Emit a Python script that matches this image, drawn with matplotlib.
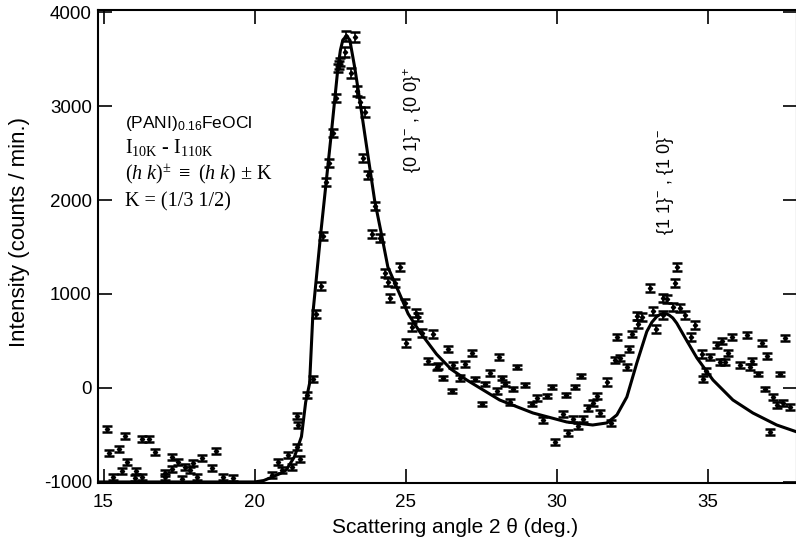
import numpy as np
import matplotlib
matplotlib.use("Agg")
import matplotlib.pyplot as plt

plt.rcParams["font.family"] = ["Liberation Sans", "DejaVu Sans"]
plt.rcParams["axes.unicode_minus"] = False
plt.rcParams["mathtext.fontset"] = "custom"
plt.rcParams["mathtext.rm"] = "Liberation Serif"
plt.rcParams["mathtext.it"] = "Liberation Serif:italic"
plt.rcParams["mathtext.sf"] = "Liberation Sans"

# Difference pattern I(10K) - I(110K), counts / min
two_theta = [
    15.10, 15.17, 15.50, 15.30, 15.60, 15.70, 15.79, 16.09, 16.26, 16.49,
    16.26, 16.69, 17.02, 17.05, 17.28, 17.28, 17.45, 17.58, 17.68, 17.85,
    17.95, 18.08, 18.25, 18.58, 18.71, 18.94, 19.27, 16.03,
    20.56, 20.76, 20.89, 21.09, 21.23, 21.39, 21.49, 21.42, 21.39, 21.75,
    21.92, 22.02, 22.19, 22.25, 22.35, 22.45, 22.58, 22.68, 22.75, 22.78,
    22.81, 22.98, 23.04, 23.18, 23.31, 23.38, 23.48, 23.64, 23.58, 23.74,
    23.97, 23.87, 24.14, 24.80, 24.30, 24.40, 24.64, 24.47, 24.97, 25.33,
    25.40, 25.20, 25.53, 25.89, 25.00, 25.73, 26.03, 26.39, 27.19, 28.08,
    26.06, 26.56, 26.95, 26.23, 26.79, 27.28, 27.62, 26.52, 27.78, 28.18,
    28.28, 28.01, 28.68, 28.54, 28.94, 27.52, 28.44, 29.17, 29.34, 29.67,
    29.83, 30.30, 30.60, 30.79, 31.32, 31.19, 31.03, 31.42, 31.66, 29.54,
    30.20, 30.53, 30.86, 30.70, 29.93, 30.36, 31.79, 31.99, 31.92, 32.09,
    32.32, 32.38, 32.48, 32.65, 32.81, 32.68, 33.08, 33.18, 33.28, 33.51,
    33.64, 33.51, 33.97, 33.91, 33.84, 34.07, 34.24, 34.57, 34.44, 34.80,
    35.07, 35.40, 35.56, 34.93, 34.83, 35.30, 35.46, 35.79, 36.29, 35.66,
    36.06, 36.46, 36.39, 36.66, 36.79, 36.95, 36.89, 37.15, 37.38, 37.55,
    37.28, 37.48, 37.72, 37.05,
]
counts = [
    -436, -691, -649, -947, -883, -511, -787, -883, -543, -543,
    -947, -681, -947, -904, -734, -862, -787, -968, -841, -872,
    -798, -947, -745, -851, -670, -947, -958, -958,
    -926, -787, -872, -713, -841, -628, -755, -394, -298, -74,
    96, 787, 1085, 1617, 2192, 2394, 2713, 3086, 3405, 3437,
    3469, 3575, 3745, 3352, 3735, 3160, 3043, 2937, 2447, 2266,
    1936, 1639, 1596, 1287, 1224, 1128, 1117, 958, 904, 798,
    755, 649, 585, 575, 479, 287, 223, 415, 372, 330,
    234, 245, 255, 106, 106, 96, 43, -32, 160, 106,
    43, -32, 223, -11, 32, -170, -149, -170, -106, -85,
    11, -74, 11, 128, -85, -160, -213, -266, 64, -340,
    -277, -330, -330, -404, -575, -479, -372, 543, 298, 319,
    223, 415, 575, 766, 755, 681, 1064, 819, 628, 958,
    947, 777, 1287, 1117, 862, 851, 777, 670, 543, 362,
    330, 277, 277, 181, 96, 458, 500, 543, 564, 372,
    245, 287, 223, 149, 479, 340, -11, -96, 149, 532,
    -181, -160, -202, -468,
]
sigma = [
    30, 30, 30, 30, 30, 30, 30, 30, 30, 30,
    30, 30, 30, 30, 30, 30, 30, 30, 30, 30,
    30, 30, 30, 30, 30, 30, 30, 30,
    30, 30, 30, 30, 30, 35, 35, 35, 35, 35,
    35, 40, 40, 45, 45, 45, 45, 45, 45, 45,
    45, 50, 55, 50, 55, 50, 50, 50, 45, 45,
    45, 45, 45, 40, 40, 40, 40, 40, 40, 40,
    40, 40, 40, 40, 40, 35, 35, 35, 35, 35,
    35, 35, 30, 25, 30, 25, 20, 20, 30, 20,
    20, 30, 25, 20, 25, 20, 30, 25, 30, 25,
    20, 25, 20, 25, 30, 30, 30, 30, 40, 35,
    35, 35, 35, 35, 35, 35, 35, 35, 35, 35,
    30, 35, 35, 40, 40, 40, 40, 40, 40, 40,
    40, 40, 45, 45, 40, 40, 40, 40, 40, 40,
    35, 35, 35, 35, 35, 35, 35, 35, 35, 35,
    35, 35, 35, 25, 35, 35, 25, 35, 25, 35,
    35, 35, 35, 35,
]

# fitted profile
fit_x = [14.8, 20.0, 20.3, 20.61, 20.85, 21.05, 21.32, 21.55, 21.69, 21.82,
         21.93, 22.19, 22.54, 22.76, 22.84, 22.92, 23.04, 23.15, 23.31, 23.48,
         23.64, 23.97, 24.19, 24.41, 24.80, 25.08, 25.46, 26.02, 26.5, 27.02,
         28.11, 29.21, 30.33, 31.19, 31.66, 31.99, 32.32, 32.65, 32.98, 33.15,
         33.31, 33.42, 33.52, 33.62, 33.72, 33.84, 33.97, 34.30, 34.64, 35.17,
         35.83, 36.49, 37.28, 37.95]
fit_y = [-1000, -1000, -985, -944, -910, -872, -731, -518, -150, 50,
         798, 1649, 2713, 3415, 3596, 3703, 3745, 3703, 3415, 3064,
         2713, 2000, 1649, 1287, 1000, 790, 600, 360, 200, 85,
         -128, -266, -362, -394, -372, -287, -96, 266, 600, 700,
         760, 782, 792, 790, 775, 745, 690, 505, 319, 85,
         -128, -266, -394, -468]

fig = plt.figure(figsize=(7.96, 5.45), dpi=100)
ax = fig.add_axes([0.1225, 0.1138, 0.8787, 0.8679])

ax.plot(fit_x, fit_y, color="black", lw=2.2, zorder=3)
ax.errorbar(two_theta, counts, yerr=sigma, fmt="D", ms=2.2, color="black",
            ecolor="black", elinewidth=1.2, capsize=3.8, capthick=1.8, zorder=4)

ax.set_xlim(14.8, 37.95)
ax.set_ylim(-1011, 4022)
ax.set_xticks([15, 20, 25, 30, 35])
ax.set_yticks([-1000, 0, 1000, 2000, 3000, 4000])
ax.tick_params(direction="in", length=10, width=1.2, top=True, right=True,
               labelsize=13.5)
ax.tick_params(axis="x", pad=8)
ax.tick_params(axis="y", pad=4)
for s in ax.spines.values():
    s.set_linewidth(1.5)

ax.set_xlabel("Scattering angle 2 \u03b8 (deg.)", fontsize=15, labelpad=6)
ax.set_ylabel("Intensity (counts / min.)", fontsize=16)
ax.xaxis.set_label_coords(0.511, -0.075)
ax.yaxis.set_label_coords(-0.097, 0.531)

ax.text(0.039, 0.750, r"(PANI)$_{\mathsf{0.16}}$FeOCl", transform=ax.transAxes,
        fontsize=12.5, va="baseline")
serif = ["Liberation Serif", "DejaVu Serif"]
ax.text(0.039, 0.698, r"I$_{\mathrm{10K}}$ - I$_{\mathrm{110K}}$",
        transform=ax.transAxes, fontsize=14.5, family=serif, va="baseline")
ax.text(0.039, 0.641,
        r"($\mathit{h}$ $\mathit{k}$)$^{\pm}$ $\equiv$ ($\mathit{h}$ $\mathit{k}$) $\pm$ K",
        transform=ax.transAxes, fontsize=14.5, family=serif, va="baseline")
ax.text(0.039, 0.584, "K = (1/3 1/2)", transform=ax.transAxes,
        fontsize=14.5, family=serif, va="baseline")

ax.text(0.4496, 0.767, r"{0 1}$^{\mathsf{-}}$ , {0 0}$^{\mathsf{+}}$",
        transform=ax.transAxes, rotation=90, fontsize=13,
        ha="center", va="center")
ax.text(0.812, 0.636, r"{1 1}$^{\mathsf{-}}$ , {1 0}$^{\mathsf{-}}$",
        transform=ax.transAxes, rotation=90, fontsize=13,
        ha="center", va="center")

fig.savefig("out.png", dpi=100)
